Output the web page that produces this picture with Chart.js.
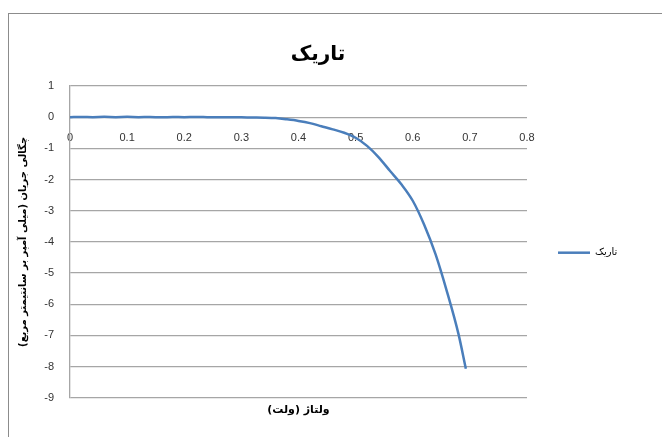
<!DOCTYPE html>
<html>
<head>
<meta charset="utf-8">
<script src="https://cdn.jsdelivr.net/npm/chart.js@4"></script>
<style>
  html, body { margin: 0; padding: 0; background: #fff; overflow: hidden; }
  #frame {
    position: absolute; left: 8px; top: 13px;
    width: 660px; height: 430px;
    border-left: 1px solid #8c8c8c; border-top: 1px solid #8c8c8c;
  }
  #wrap { position: absolute; left: 0; top: 0; width: 620px; height: 423px; }
</style>
</head>
<body>
<div id="frame"><div id="wrap"><canvas id="chart"></canvas></div></div>
<script>
// dark-condition J-V curve
const voltage = [0, 0.02, 0.04, 0.06, 0.08, 0.10, 0.12, 0.14, 0.16, 0.18, 0.20, 0.22, 0.24, 0.26, 0.28, 0.30,
  0.32, 0.34, 0.36, 0.38, 0.40, 0.42, 0.44, 0.46, 0.48, 0.50, 0.52, 0.54, 0.56, 0.58, 0.60, 0.62, 0.64,
  0.66, 0.68, 0.693];
const current = [0, 0.005, 0, 0.01, 0, 0.01, 0, 0.005, -0.005, 0.005, 0, 0.005, 0, -0.005, 0, -0.005,
  -0.01, -0.015, -0.03, -0.07, -0.12, -0.19, -0.29, -0.39, -0.5, -0.66, -0.92, -1.28, -1.72, -2.15, -2.68, -3.45, -4.4,
  -5.6, -6.95, -8.07];
const xTicks = [0, 0.1, 0.2, 0.3, 0.4, 0.5, 0.6, 0.7, 0.8];
const yRange = [-9, 1];

const seriesName = 'تاریک';
const chartTitle = 'تاریک';
const xTitle = 'ولتاژ (ولت)';
const yTitle = 'چگالی جریان (میلی آمپر بر سانتیمتر مربع)';

const tickFont = { family: 'Liberation Sans', size: 11 };
const gridColor = '#a6a6a6';
const legendWidth = 100;

// fixed legend width so the plot ends where the reference does
const legendSizer = {
  id: 'legendSizer',
  beforeLayout(chart) {
    const lg = chart.legend;
    if (!lg || lg._sized) return;
    const fit = lg.fit;
    lg.fit = function () { fit.call(this); this.width = legendWidth; };
    lg._sized = true;
  }
};

new Chart(document.getElementById('chart'), {
  type: 'line',
  data: {
    datasets: [{
      label: seriesName,
      data: voltage.map((v, i) => ({ x: v, y: current[i] })),
      borderColor: '#4a7ebb',
      backgroundColor: '#4a7ebb',
      borderWidth: 2.5,
      pointRadius: 0,
      tension: 0.3,
      cubicInterpolationMode: 'monotone'
    }]
  },
  plugins: [legendSizer],
  options: {
    responsive: true,
    maintainAspectRatio: false,
    animation: false,
    layout: { padding: { left: 0, right: 2, top: 0, bottom: 20 } },
    plugins: {
      title: {
        display: true,
        text: chartTitle,
        color: '#000',
        font: { family: 'DejaVu Sans', size: 20, weight: 'bold' },
        padding: { top: 29, bottom: 19 }
      },
      legend: {
        position: 'right',
        title: { display: true, text: '', padding: { top: 60, bottom: 0 } },
        labels: {
          usePointStyle: true,
          pointStyle: 'line',
          pointStyleWidth: 32,
          color: '#000',
          font: { family: 'DejaVu Sans', size: 10 },
          padding: 31
        }
      },
      tooltip: { enabled: false }
    },
    scales: {
      x: {
        type: 'linear',
        position: { y: 0 },
        min: xTicks[0],
        max: xTicks[xTicks.length - 1],
        afterBuildTicks: s => { s.ticks = xTicks.map(v => ({ value: v })); },
        grid: { display: false },
        border: { display: false },
        ticks: { color: '#333', font: tickFont, padding: 6, maxRotation: 0 }
      },
      x2: {
        type: 'linear',
        position: 'bottom',
        min: 0, max: 0.8,
        grid: { display: false, drawTicks: false },
        border: { display: false },
        ticks: { display: false },
        title: {
          display: true,
          text: xTitle,
          color: '#000',
          font: { family: 'DejaVu Sans', size: 11, weight: 'bold' },
          padding: { top: 6, bottom: 0 }
        }
      },
      y: {
        min: yRange[0],
        max: yRange[1],
        afterFit: s => { s.width = 61; },
        grid: { color: gridColor, lineWidth: 1.3, drawTicks: false },
        border: { color: gridColor, width: 1.3 },
        ticks: { stepSize: 1, color: '#333', font: tickFont, padding: 16 },
        title: {
          display: true,
          text: yTitle,
          color: '#000',
          font: { family: 'DejaVu Sans', size: 10, weight: 'bold' },
          padding: { top: 8, bottom: 4 }
        }
      }
    }
  }
});
</script>
</body>
</html>
